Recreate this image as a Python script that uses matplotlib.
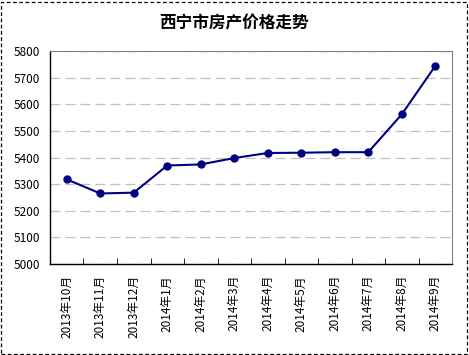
import matplotlib
matplotlib.use("Agg")
import matplotlib.pyplot as plt
from matplotlib.patches import Rectangle

plt.rcParams['font.family'] = ['Noto Sans CJK SC', 'DejaVu Sans']

months = ["2013年10月", "2013年11月", "2013年12月", "2014年1月", "2014年2月",
          "2014年3月", "2014年4月", "2014年5月", "2014年6月", "2014年7月",
          "2014年8月", "2014年9月"]
prices = [5318, 5265, 5268, 5370, 5374, 5398, 5417, 5418, 5420, 5420, 5562, 5744]
yticks = [5000, 5100, 5200, 5300, 5400, 5500, 5600, 5700, 5800]
title = "西宁市房产价格走势"

fig = plt.figure(figsize=(4.69, 3.55), dpi=100)
ax = fig.add_axes([0.1066, 0.2563, 0.8572, 0.6])

x = list(range(len(months)))
ax.plot(x, prices, color="#000080", linewidth=1.5, marker="o", markersize=5,
        markerfacecolor="#000080", markeredgecolor="#000080", zorder=3)

ax.set_xlim(-0.5, len(months) - 0.5)
ax.set_ylim(5000, 5800)
ax.set_yticks(yticks)
ax.set_yticklabels([str(v) for v in yticks], fontsize=8.5)
ax.yaxis.grid(True, color="#c0c0c0", linestyle=(0, (8, 4)), linewidth=0.9)
ax.tick_params(axis="y", length=0, pad=7)

ax.set_xticks(x)
ax.set_xticklabels(months, rotation=90, fontsize=8.5)
ax.tick_params(axis="x", which="major", length=0, pad=8)
ax.set_xticks([i + 0.5 for i in range(-1, len(months))], minor=True)
ax.tick_params(axis="x", which="minor", direction="in", length=4, color="black")

for side in ["top", "right"]:
    ax.spines[side].set_color("#808080")
    ax.spines[side].set_linewidth(0.8)
ax.spines["bottom"].set_color("black")
ax.spines["left"].set_color("black")
ax.spines["bottom"].set_linewidth(1.0)
ax.spines["left"].set_linewidth(1.0)

fig.text(0.5, 0.935, title, ha="center", va="center", fontsize=12, fontweight="bold")

border = Rectangle((0.003, 0.004), 0.993, 0.99, transform=fig.transFigure,
                   fill=False, edgecolor="black", linestyle=(0, (3, 2)), linewidth=0.9)
fig.patches.append(border)

fig.savefig("out.png", dpi=100)
